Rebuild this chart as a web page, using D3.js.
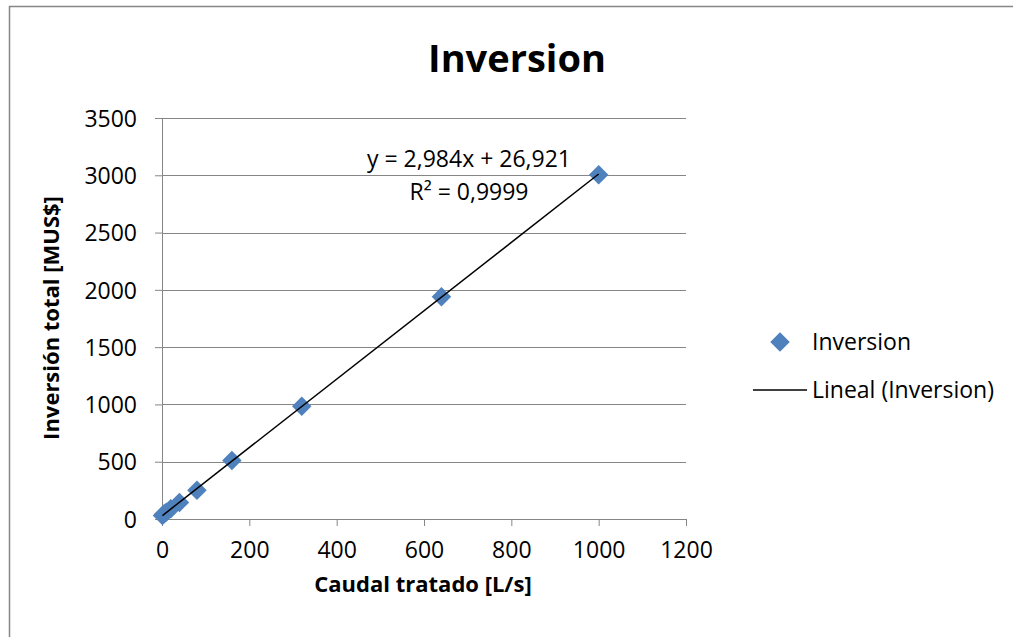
<!DOCTYPE html>
<html>
<head>
<meta charset="utf-8">
<script src="https://cdn.jsdelivr.net/npm/d3@7"></script>
<style>
  body { margin: 0; background: #fff; }
  svg text { font-family: "Open Sans", sans-serif; fill: #000; }
</style>
</head>
<body>
<div id="chart"></div>
<script>
// chart data
var caudal = [1, 5, 10, 20, 40, 80, 160, 320, 640, 1000];
var inversion = [30, 45, 60, 90, 145, 250, 510, 985, 1940, 3005];
var xTicks = [0, 200, 400, 600, 800, 1000, 1200];
var yTicks = [0, 500, 1000, 1500, 2000, 2500, 3000, 3500];
var slope = 2.984;
var intercept = 26.921;
var eqLines = ["y = 2,984x + 26,921", "R² = 0,9999"];

var svgWidth = 1013;
var svgHeight = 637;

var margin = {
    top: 118,
    left: 162,
    right: 327,
    bottom: 118
};

var width = svgWidth - margin.left - margin.right;   // 524
var height = svgHeight - margin.top - margin.bottom; // 401

var svg = d3.select("#chart")
    .append("svg")
    .attr("width", svgWidth)
    .attr("height", svgHeight);

// outer chart border
svg.append("rect")
    .attr("x", 9.5)
    .attr("y", 6.5)
    .attr("width", 1100)
    .attr("height", 700)
    .attr("fill", "none")
    .attr("stroke", "#868686")
    .attr("stroke-width", 1.5);

var chartGroup = svg.append("g")
    .attr("transform", `translate(${margin.left}, ${margin.top})`);

var xLinearScale = d3.scaleLinear().domain([0, 1200]).range([0, width]);
var yLinearScale = d3.scaleLinear().domain([0, 3500]).range([height, 0]);

// gridlines
chartGroup.selectAll(".grid")
    .data(yTicks.slice(1))
    .enter()
    .append("line")
    .attr("x1", 0)
    .attr("x2", width)
    .attr("y1", d => Math.round(yLinearScale(d)) + 0.5)
    .attr("y2", d => Math.round(yLinearScale(d)) + 0.5)
    .attr("stroke", "#868686")
    .attr("stroke-width", 1);

// axes
var bottomAxis = d3.axisBottom(xLinearScale).tickValues(xTicks).tickFormat(d3.format("d"))
    .tickSizeInner(7).tickSizeOuter(0).tickPadding(8);
var leftAxis = d3.axisLeft(yLinearScale).tickValues(yTicks).tickFormat(d3.format("d"))
    .tickSizeInner(7).tickSizeOuter(0).tickPadding(18);

var xAxis = chartGroup.append("g")
    .attr("transform", `translate(0, ${height})`)
    .call(bottomAxis);

var yAxis = chartGroup.append("g")
    .call(leftAxis);

[xAxis, yAxis].forEach(function(ax) {
    ax.select(".domain").attr("stroke", "#868686");
    ax.selectAll(".tick line").attr("stroke", "#868686");
    ax.selectAll(".tick text")
        .style("font-size", "23px")
        .style("font-family", "'Open Sans', sans-serif")
        .attr("fill", "#000");
});
xAxis.selectAll(".tick text").attr("dy", "1.05em");
yAxis.selectAll(".tick text").attr("dy", "0.36em");

// trend line
var trend = d3.line()
    .x(d => xLinearScale(d))
    .y(d => yLinearScale(slope * d + intercept));

// diamonds
var diamond = d3.symbol().type(d3.symbolSquare).size(190);

chartGroup.selectAll(".pt")
    .data(caudal)
    .enter()
    .append("path")
    .attr("d", diamond)
    .attr("transform", (d, i) => `translate(${xLinearScale(d)}, ${yLinearScale(inversion[i])}) rotate(45)`)
    .attr("fill", "#4F81BD");

// line goes on top of the markers like excel does
chartGroup.append("path")
    .datum([d3.min(caudal), d3.max(caudal)])
    .attr("d", trend)
    .attr("fill", "none")
    .attr("stroke", "#000")
    .attr("stroke-width", 1.5);

// equation label
chartGroup.selectAll(".eq")
    .data(eqLines)
    .enter()
    .append("text")
    .attr("x", 307)
    .attr("y", (d, i) => 49 + i * 33)
    .style("text-anchor", "middle")
    .style("font-size", "23px")
    .text(d => d);

// title
svg.append("text")
    .attr("x", 517)
    .attr("y", 72)
    .style("text-anchor", "middle")
    .style("font-size", "38px")
    .style("font-weight", "bold")
    .text("Inversion");

// axis titles
svg.append("text")
    .attr("x", 423)
    .attr("y", 592)
    .style("text-anchor", "middle")
    .style("font-size", "22px")
    .style("font-weight", "bold")
    .text("Caudal tratado [L/s]");

svg.append("text")
    .attr("transform", "translate(59, 318) rotate(-90)")
    .style("text-anchor", "middle")
    .style("font-size", "22px")
    .style("font-weight", "bold")
    .text("Inversión total [MUS$]");

// legend
var legend = svg.append("g");

legend.append("path")
    .attr("d", diamond)
    .attr("transform", "translate(780, 342) rotate(45)")
    .attr("fill", "#4F81BD");

legend.append("text")
    .attr("x", 812)
    .attr("y", 350)
    .style("font-size", "23px")
    .text("Inversion");

legend.append("line")
    .attr("x1", 753)
    .attr("x2", 807)
    .attr("y1", 390)
    .attr("y2", 390)
    .attr("stroke", "#000")
    .attr("stroke-width", 1.5);

legend.append("text")
    .attr("x", 812)
    .attr("y", 398)
    .style("font-size", "23px")
    .text("Lineal (Inversion)");
</script>
</body>
</html>
